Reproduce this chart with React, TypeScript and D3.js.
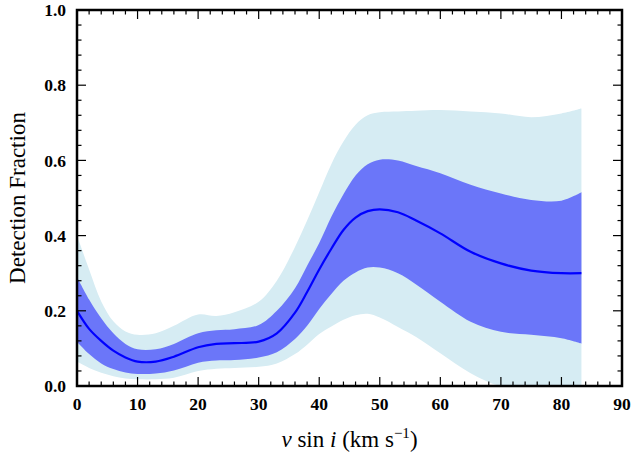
import React from "react";
import * as d3 from "d3";

const vsini = [0, 2, 4, 6, 8, 10, 13, 16, 20, 23, 26, 30, 33, 36, 38, 40, 42, 44, 46, 48, 50, 53, 56, 60, 65, 70, 75, 80, 83.3];
const median = [0.2, 0.152, 0.12, 0.094, 0.076, 0.065, 0.065, 0.078, 0.103, 0.112, 0.114, 0.118, 0.14, 0.195, 0.25, 0.31, 0.365, 0.415, 0.448, 0.465, 0.47, 0.462, 0.44, 0.406, 0.357, 0.326, 0.307, 0.3, 0.3];
const darkUpper = [0.29, 0.23, 0.18, 0.14, 0.112, 0.098, 0.098, 0.112, 0.14, 0.148, 0.151, 0.162, 0.2, 0.26, 0.32, 0.38, 0.45, 0.51, 0.56, 0.59, 0.602, 0.6, 0.585, 0.566, 0.535, 0.512, 0.495, 0.493, 0.515];
const darkLower = [0.118, 0.085, 0.06, 0.045, 0.036, 0.032, 0.033, 0.041, 0.062, 0.068, 0.069, 0.076, 0.09, 0.125, 0.16, 0.205, 0.245, 0.28, 0.302, 0.315, 0.315, 0.3, 0.27, 0.224, 0.171, 0.144, 0.136, 0.127, 0.113];
const lightUpper = [0.4, 0.31, 0.225, 0.172, 0.145, 0.136, 0.14, 0.16, 0.19, 0.186, 0.196, 0.224, 0.28, 0.37, 0.44, 0.515, 0.59, 0.65, 0.695, 0.72, 0.728, 0.73, 0.732, 0.734, 0.73, 0.725, 0.715, 0.725, 0.738];
const lightLower = [0.065, 0.048, 0.035, 0.026, 0.02, 0.018, 0.018, 0.022, 0.04, 0.046, 0.048, 0.051, 0.06, 0.085, 0.11, 0.138, 0.158, 0.176, 0.188, 0.192, 0.182, 0.157, 0.13, 0.087, 0.034, 0, 0, 0, 0];

const xMajor = [0, 10, 20, 30, 40, 50, 60, 70, 80, 90];
const yMajor = [0.0, 0.2, 0.4, 0.6, 0.8, 1.0];

const W = 631;
const H = 457;
const L = 77, R = 622, T = 10, B = 386;
const SERIF = "'Liberation Serif', 'Times New Roman', Times, 'Nimbus Roman', serif";

export default function App() {
  const x = d3.scaleLinear().domain([0, 90]).range([L, R]);
  const y = d3.scaleLinear().domain([0, 1]).range([B, T]);
  const idx = vsini.map((_, i) => i);
  const curve = d3.curveCatmullRom.alpha(0.5);

  const band = (lo: number[], hi: number[]) =>
    d3.area<number>()
      .x((i) => x(vsini[i]))
      .y0((i) => y(Math.max(0, lo[i])))
      .y1((i) => y(hi[i]))
      .curve(curve)(idx) || "";

  const line = d3.line<number>()
    .x((i) => x(vsini[i]))
    .y((i) => y(median[i]))
    .curve(curve)(idx) || "";

  const xMinor = d3.range(0, 90.001, 2).filter((v) => v % 10 !== 0);
  const yMinor = d3.range(0, 1.0001, 0.04).filter((v) => Math.abs(v / 0.2 - Math.round(v / 0.2)) > 1e-6);

  const major = 9, minor = 4.5;
  const tickColor = "#000";

  return (
    <svg width={W} height={H} style={{ position: "absolute", left: 0, top: 0 }}>
      <rect width={W} height={H} fill="#fff" />
      <defs>
        <clipPath id="plotclip">
          <rect x={L} y={T} width={R - L} height={B - T} />
        </clipPath>
      </defs>
      <g clipPath="url(#plotclip)">
        <path d={band(lightLower, lightUpper)} fill="#d6ecf3" />
        <path d={band(darkLower, darkUpper)} fill="#6b76f9" />
        <path d={line} fill="none" stroke="#0000ff" strokeWidth={2.2} />
      </g>
      {xMajor.map((v) => (
        <g key={"xm" + v}>
          <line x1={x(v)} x2={x(v)} y1={B} y2={B - major} stroke={tickColor} strokeWidth={1.2} />
          <line x1={x(v)} x2={x(v)} y1={T} y2={T + major} stroke={tickColor} strokeWidth={1.2} />
          <text x={x(v)} y={410} textAnchor="middle" fontFamily={SERIF} fontWeight="bold" fontSize={17.5}>
            {v}
          </text>
        </g>
      ))}
      {xMinor.map((v) => (
        <g key={"xn" + v}>
          <line x1={x(v)} x2={x(v)} y1={B} y2={B - minor} stroke={tickColor} strokeWidth={1.2} />
          <line x1={x(v)} x2={x(v)} y1={T} y2={T + minor} stroke={tickColor} strokeWidth={1.2} />
        </g>
      ))}
      {yMajor.map((v) => (
        <g key={"ym" + v}>
          <line x1={L} x2={L + major} y1={y(v)} y2={y(v)} stroke={tickColor} strokeWidth={1.2} />
          <line x1={R} x2={R - major} y1={y(v)} y2={y(v)} stroke={tickColor} strokeWidth={1.2} />
          <text x={66} y={y(v)} dy="0.35em" textAnchor="end" fontFamily={SERIF} fontWeight="bold" fontSize={17.5}>
            {v.toFixed(1)}
          </text>
        </g>
      ))}
      {yMinor.map((v) => (
        <g key={"yn" + v}>
          <line x1={L} x2={L + minor} y1={y(v)} y2={y(v)} stroke={tickColor} strokeWidth={1.2} />
          <line x1={R} x2={R - minor} y1={y(v)} y2={y(v)} stroke={tickColor} strokeWidth={1.2} />
        </g>
      ))}
      <rect x={L} y={T} width={R - L} height={B - T} fill="none" stroke="#000" strokeWidth={2.5} />
      <text
        transform={`translate(25,${(T + B) / 2}) rotate(-90)`}
        textAnchor="middle"
        fontFamily={SERIF}
        fontSize={23}
      >
        Detection Fraction
      </text>
      <text x={(L + R) / 2} y={447} textAnchor="middle" fontFamily={SERIF} fontSize={23}>
        <tspan fontStyle="italic">v</tspan>
        <tspan> sin </tspan>
        <tspan fontStyle="italic">i</tspan>
        <tspan> (km s</tspan>
        <tspan dy={-9} fontSize={15}>−1</tspan>
        <tspan dy={9}>)</tspan>
      </text>
    </svg>
  );
}
